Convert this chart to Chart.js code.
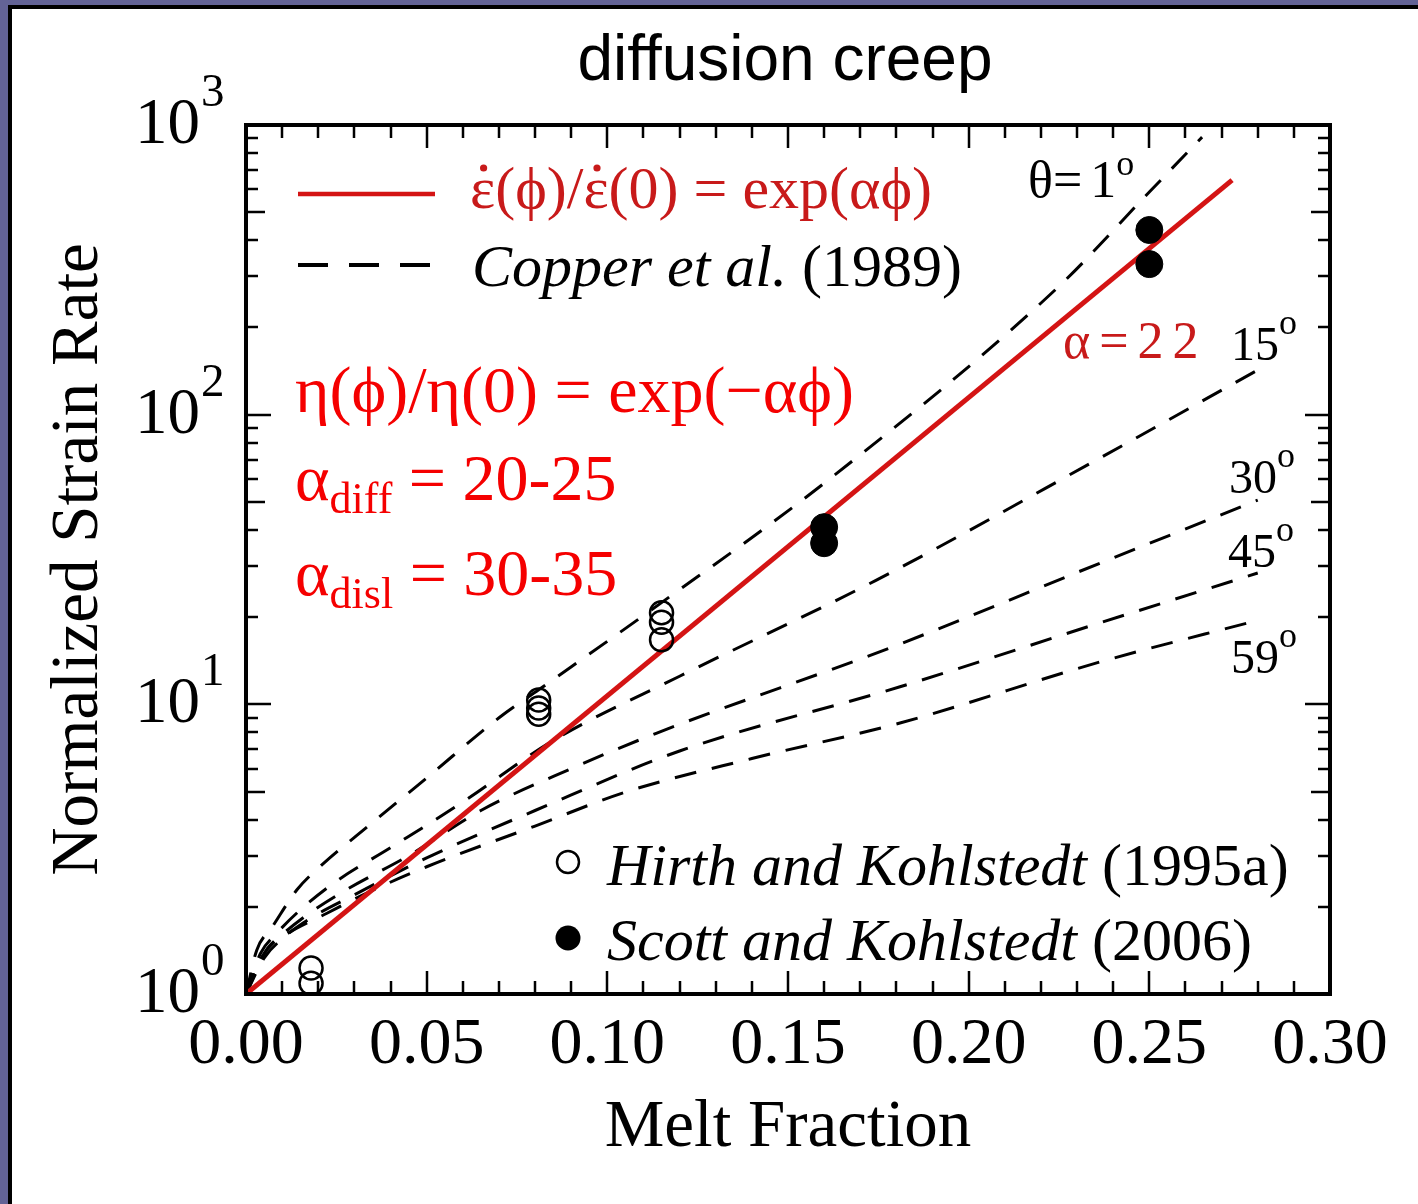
<!DOCTYPE html>
<html>
<head>
<meta charset="utf-8">
<script src="https://cdn.jsdelivr.net/npm/chart.js@4.4.1/dist/chart.umd.min.js"></script>
<style>
  html, body { margin: 0; padding: 0; width: 1418px; height: 1204px; overflow: hidden; background: #636396; }
  #panel { position: absolute; left: 8px; top: 5px; right: 0; bottom: 0; background: #fff;
           border-left: 4px solid #000; border-top: 4px solid #000; }
  #wrap { position: absolute; left: 0; top: 0; width: 1418px; height: 1204px; }
</style>
</head>
<body>
<div id="panel"></div>
<div id="wrap"><canvas id="c" width="1418" height="1204"></canvas></div>
<script>
// ---- axis ticks ----
const xTickValues = [0, 0.05, 0.10, 0.15, 0.20, 0.25, 0.30];
const xTickLabels = ['0.00', '0.05', '0.10', '0.15', '0.20', '0.25', '0.30'];
const yDecades = [1, 10, 100, 1000];
const yExponents = ['0', '1', '2', '3'];

// ---- exponential fit, exp(alpha * phi) ----
const fitLine = [[0, 1], [0.2729, 645]];

// ---- Cooper et al. (1989) curves, [melt fraction, normalized strain rate] ----
const cooper1 = [[0, 1], [0.003, 1.42], [0.0072, 1.70], [0.0141, 2.29], [0.021, 2.79], [0.0335, 3.77],
                 [0.05, 5.57], [0.0703, 9.04], [0.0811, 11.25], [0.1149, 22.4], [0.16, 58],
                 [0.2244, 273], [0.25, 587], [0.2646, 908]];
const cooper15 = [[0, 1], [0.004, 1.38], [0.0085, 1.62], [0.015, 1.95], [0.025, 2.45], [0.04, 3.2],
                  [0.06, 4.6], [0.085, 7.5], [0.12, 12.5], [0.1746, 26.9], [0.2363, 70.8], [0.28, 142.6]];
const cooper30 = [[0, 1], [0.0045, 1.35], [0.0095, 1.58], [0.017, 1.88], [0.028, 2.3], [0.045, 3.0],
                  [0.065, 4.3], [0.09, 6.0], [0.1137, 7.96], [0.179, 15.8], [0.2363, 30.7], [0.28, 50.7]];
const cooper45 = [[0, 1], [0.005, 1.33], [0.01, 1.55], [0.018, 1.83], [0.03, 2.2], [0.05, 2.95],
                  [0.08, 4.3], [0.12, 6.9], [0.181, 11.5], [0.2363, 19.1], [0.28, 28.4]];
const cooper59 = [[0, 1], [0.006, 1.44], [0.0116, 1.62], [0.0224, 1.90], [0.0324, 2.2], [0.05, 2.75],
                  [0.08, 3.8], [0.1055, 5.0], [0.14, 6.5], [0.181, 8.62], [0.2363, 14.0], [0.28, 19.5]];
const cooperAngles = ['1', '15', '30', '45', '59'];

// ---- experiments ----
const hirthPhi  = [0.018, 0.018, 0.081, 0.081, 0.081, 0.115, 0.115, 0.115];
const hirthRate = [1.23, 1.09, 10.35, 9.71, 9.25, 20.7, 19.2, 16.7];
const scottPhi  = [0.16, 0.16, 0.25, 0.25];
const scottRate = [40.9, 36.0, 434, 331];

const SERIF = '"Liberation Serif", "Times New Roman", serif';
const SANS = '"Liberation Sans", Arial, sans-serif';
const DARK_RED = '#c81a1a';
const BRIGHT_RED = '#f50000';

const toPts = arr => arr.map(([x, y]) => ({ x, y }));
const zipPts = (xs, ys) => xs.map((x, i) => ({ x, y: ys[i] }));

function dashed(pts) {
  return {
    data: toPts(pts), showLine: true, borderColor: '#000', borderWidth: 3,
    borderDash: [22, 16], pointRadius: 0, cubicInterpolationMode: 'monotone', order: 3
  };
}

// draws consecutive text pieces with individual fonts / offsets;
// a piece with dot:true gets a centred dot above it (time derivative)
function runs(ctx, x, y, parts) {
  let cx = x;
  for (const p of parts) {
    ctx.font = p.font;
    if (p.color) ctx.fillStyle = p.color;
    cx += (p.gap || 0);
    ctx.fillText(p.text, cx, y + (p.dy || 0));
    const w = ctx.measureText(p.text).width;
    if (p.dot) {
      ctx.beginPath();
      ctx.arc(cx + w / 2 + 1, y - 40, 3.6, 0, Math.PI * 2);
      ctx.fill();
    }
    cx += w;
  }
  return cx;
}

const frame = {
  id: 'frame',
  afterDatasetsDraw(chart) {
    const { ctx, chartArea: a, scales: { x, y } } = chart;
    ctx.save();
    ctx.strokeStyle = '#000';
    ctx.lineWidth = 2.5;
    ctx.beginPath();
    for (let i = 0; i <= 30; i++) {
      const px = Math.round(x.getPixelForValue(i / 100));
      const len = i % 5 === 0 ? 23 : 13;
      ctx.moveTo(px, a.bottom); ctx.lineTo(px, a.bottom - len);
      ctx.moveTo(px, a.top); ctx.lineTo(px, a.top + len);
    }
    for (let d = 1; d <= 100; d *= 10) {
      for (let m = 1; m <= 9; m++) {
        const py = Math.round(y.getPixelForValue(m * d));
        const len = m === 1 ? 25 : (m === 5 ? 19 : 12);
        ctx.moveTo(a.left, py); ctx.lineTo(a.left + len, py);
        ctx.moveTo(a.right, py); ctx.lineTo(a.right - len, py);
      }
    }
    ctx.stroke();
    ctx.lineWidth = 4;
    ctx.strokeRect(a.left, a.top, a.right - a.left, a.bottom - a.top);
    ctx.restore();
  },
  afterDraw(chart) {
    const { ctx, chartArea: a, scales: { x, y } } = chart;
    ctx.save();
    ctx.textBaseline = 'alphabetic';
    ctx.fillStyle = '#000';

    // title
    ctx.textAlign = 'center';
    ctx.font = `64px ${SANS}`;
    ctx.fillText('diffusion creep', 785, 80);

    // x tick labels and title
    ctx.font = `66px ${SERIF}`;
    xTickValues.forEach((v, i) => ctx.fillText(xTickLabels[i], x.getPixelForValue(v), 1063));
    ctx.font = `67px ${SERIF}`;
    ctx.fillText('Melt Fraction', (a.left + a.right) / 2, 1146);

    // y title
    ctx.save();
    ctx.translate(97, (a.top + a.bottom) / 2);
    ctx.rotate(-Math.PI / 2);
    ctx.fillText('Normalized Strain Rate', 0, 0);
    ctx.restore();

    // y tick labels 10^n
    yDecades.forEach((v, i) => {
      const py = y.getPixelForValue(v);
      ctx.textAlign = 'right';
      ctx.font = `65px ${SERIF}`;
      ctx.fillText('10', 200, py + 18);
      ctx.textAlign = 'left';
      ctx.font = `47px ${SERIF}`;
      ctx.fillText(yExponents[i], 201, py - 19);
    });

    ctx.textAlign = 'left';
    // legend: lines
    ctx.strokeStyle = '#d41414';
    ctx.lineWidth = 4.5;
    ctx.beginPath(); ctx.moveTo(298, 194); ctx.lineTo(435, 194); ctx.stroke();
    ctx.strokeStyle = '#000';
    ctx.lineWidth = 4;
    ctx.setLineDash([30, 21]);
    ctx.beginPath(); ctx.moveTo(298, 265); ctx.lineTo(432, 265); ctx.stroke();
    ctx.setLineDash([]);

    const f60 = `60px ${SERIF}`;
    runs(ctx, 470, 208, [
      { text: '\u025B', font: f60, color: DARK_RED, dot: true },
      { text: '(\u03D5)/', font: f60 },
      { text: '\u025B', font: f60, dot: true },
      { text: '(0) = exp(\u03B1\u03D5)', font: f60 }
    ]);
    runs(ctx, 472, 286, [
      { text: 'Copper et al.', font: `italic 60px ${SERIF}`, color: '#000' },
      { text: ' (1989)', font: f60 }
    ]);

    // legend: symbols
    ctx.lineWidth = 2.5;
    ctx.beginPath(); ctx.arc(568, 862, 11, 0, Math.PI * 2); ctx.stroke();
    ctx.beginPath(); ctx.arc(568, 938, 12.5, 0, Math.PI * 2); ctx.fill();
    runs(ctx, 607, 885, [
      { text: 'Hirth and Kohlstedt', font: `italic 60px ${SERIF}`, color: '#000' },
      { text: ' (1995a)', font: f60 }
    ]);
    runs(ctx, 607, 960, [
      { text: 'Scott and Kohlstedt', font: `italic 60px ${SERIF}`, color: '#000' },
      { text: ' (2006)', font: f60 }
    ]);

    // viscosity relation
    ctx.fillStyle = BRIGHT_RED;
    runs(ctx, 295, 412, [{ text: '\u03B7(\u03D5)/\u03B7(0) = exp(\u2212\u03B1\u03D5)', font: `66px ${SERIF}` }]);
    runs(ctx, 295, 500, [
      { text: '\u03B1', font: `66px ${SERIF}` },
      { text: 'diff', font: `44px ${SERIF}`, dy: 13 },
      { text: ' = 20-25', font: `66px ${SERIF}` }
    ]);
    runs(ctx, 295, 595, [
      { text: '\u03B1', font: `66px ${SERIF}` },
      { text: 'disl', font: `44px ${SERIF}`, dy: 13 },
      { text: ' = 30-35', font: `66px ${SERIF}` }
    ]);

    // fit parameter
    ctx.fillStyle = DARK_RED;
    ctx.letterSpacing = '9px';
    runs(ctx, 1063, 358, [{ text: '\u03B1=22', font: `52px ${SERIF}` }]);
    ctx.letterSpacing = '0px';

    // dihedral angle labels
    ctx.fillStyle = '#000';
    runs(ctx, 1028, 197, [
      { text: '\u03B8=', font: `52px ${SERIF}` },
      { text: cooperAngles[0], font: `52px ${SERIF}`, gap: 8 },
      { text: 'o', font: `36px ${SERIF}`, dy: -22 }
    ]);
    const angleLabelPos = [[1231, 360], [1229, 493], [1228, 567], [1231, 673]];
    angleLabelPos.forEach(([lx, ly], i) => {
      runs(ctx, lx, ly, [
        { text: cooperAngles[i + 1], font: `48px ${SERIF}` },
        { text: 'o', font: `36px ${SERIF}`, dy: -26 }
      ]);
    });
    ctx.restore();
  }
};

new Chart(document.getElementById('c'), {
  type: 'scatter',
  data: {
    datasets: [
      { label: 'Scott and Kohlstedt (2006)', data: zipPts(scottPhi, scottRate), pointRadius: 13.5,
        pointBackgroundColor: '#000', pointBorderColor: '#000', pointBorderWidth: 1, clip: false, order: 0 },
      { label: 'Hirth and Kohlstedt (1995a)', data: zipPts(hirthPhi, hirthRate), pointRadius: 11.5,
        pointBackgroundColor: 'rgba(0,0,0,0)', pointBorderColor: '#000', pointBorderWidth: 2.5, clip: false, order: 1 },
      { label: 'exp(alpha phi)', data: toPts(fitLine), showLine: true, borderColor: '#d41414', borderWidth: 5,
        pointRadius: 0, order: 2 },
      Object.assign({ label: 'theta 1' }, dashed(cooper1)),
      Object.assign({ label: 'theta 15' }, dashed(cooper15)),
      Object.assign({ label: 'theta 30' }, dashed(cooper30)),
      Object.assign({ label: 'theta 45' }, dashed(cooper45)),
      Object.assign({ label: 'theta 59' }, dashed(cooper59))
    ]
  },
  options: {
    responsive: false,
    animation: false,
    devicePixelRatio: 1,
    layout: { padding: { left: 246, top: 125, right: 88, bottom: 210 } },
    plugins: { legend: { display: false }, tooltip: { enabled: false } },
    scales: {
      x: { type: 'linear', min: 0, max: 0.30, display: false },
      y: { type: 'logarithmic', min: 1, max: 1000, display: false }
    }
  },
  plugins: [frame]
});
</script>
</body>
</html>
